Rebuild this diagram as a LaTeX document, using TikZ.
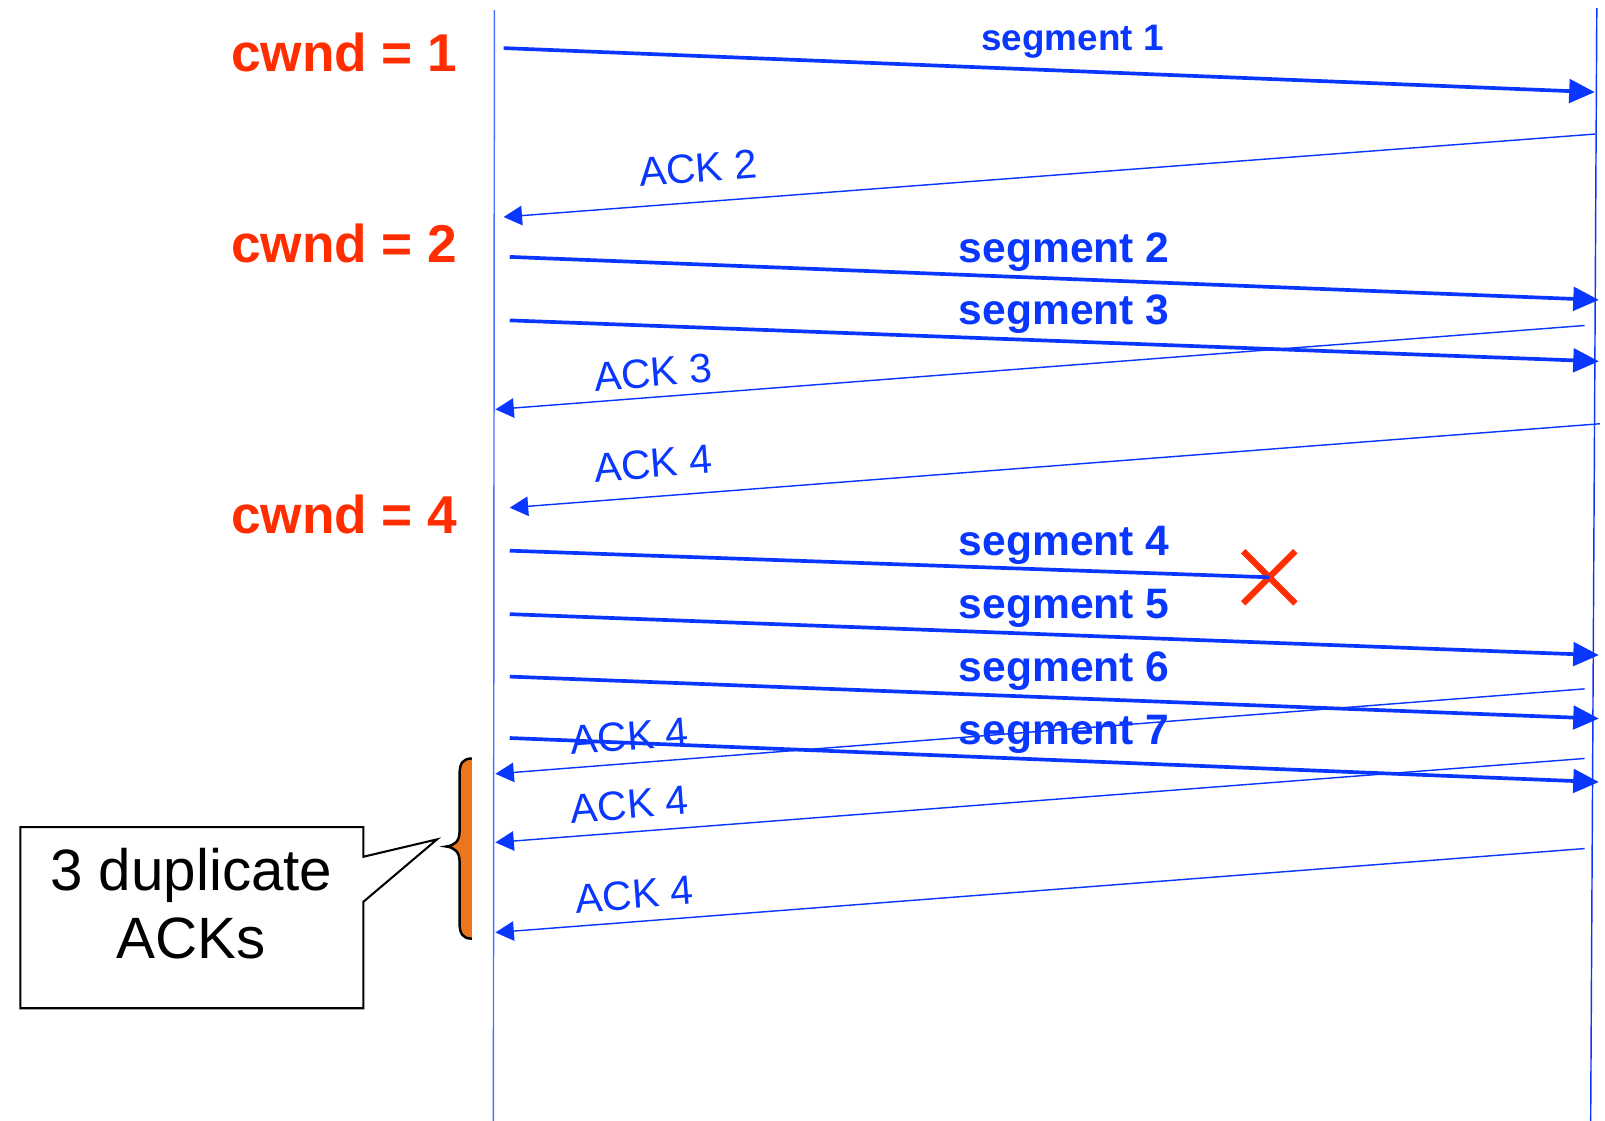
\documentclass[tikz,border=0pt]{standalone}
\usepackage{fontspec}
\setmainfont{Liberation Sans}
\usetikzlibrary{arrows.meta,shapes.misc}
\definecolor{tcpblue}{RGB}{10,55,255}
\definecolor{lineblue}{RGB}{75,110,255}
\definecolor{cwndred}{RGB}{255,45,0}
\definecolor{braceorange}{RGB}{236,118,30}
\tikzset{every picture/.style={line width=0.75pt}}
\tikzset{
  lifeline/.style={draw=#1, line width=0.7pt},
  seg/.style={draw=tcpblue, line width=1.8pt, -{Triangle[length=12.5pt,width=11.5pt]}},
  ack/.style={draw=tcpblue, line width=0.7pt, -{Triangle[length=9pt,width=9.5pt]}},
  seglabel/.style={text=tcpblue, font=\fontsize{20.8}{24}\selectfont\bfseries, anchor=base west, inner sep=0pt},
  acklabel/.style={text=tcpblue, font=\fontsize{20}{24}\selectfont, rotate=4.4, inner sep=0pt},
  cwndlabel/.style={text=cwndred, font=\fontsize{26}{30}\selectfont\bfseries, anchor=base west, inner sep=0pt},
}

\begin{document}
\begin{tikzpicture}[x=0.5pt,y=0.5pt,yscale=-1,xscale=1]
\useasboundingbox (0,0) rectangle (1568,1095);

%Time lines
\coordinate (Ltop) at (483,10);
\coordinate (Lbot) at (482,1095);
\coordinate (Rtop) at (1560,8);
\coordinate (Rbot) at (1554,1095);
\draw[lifeline=lineblue] (Ltop) -- (Lbot);
\draw[lifeline=tcpblue] (Rtop) -- (Rbot);

%End points
\coordinate (s1a) at (492,47);   \coordinate (s1b) at (1558,90);
\coordinate (a2a) at (1558,131); \coordinate (a2b) at (492,212);
\coordinate (s2a) at (498,251);  \coordinate (s2b) at (1562,293);
\coordinate (s3a) at (498,313);  \coordinate (s3b) at (1562,353);
\coordinate (a3a) at (1548,318); \coordinate (a3b) at (484,400);
\coordinate (a4a) at (1563,414); \coordinate (a4b) at (498,496);
\coordinate (s4a) at (498,538);
\coordinate (s5a) at (498,600);  \coordinate (s5b) at (1562,640);
\coordinate (s6a) at (498,661);  \coordinate (s6b) at (1562,702);
\coordinate (s7a) at (498,721);  \coordinate (s7b) at (1562,764);
\coordinate (d1a) at (1548,673); \coordinate (d1b) at (484,756);
\coordinate (d2a) at (1548,741); \coordinate (d2b) at (484,823);
\coordinate (d3a) at (1548,829); \coordinate (d3b) at (484,911);

%Lost segment
\node[cross out, draw=cwndred, line width=3pt, minimum size=22.5pt, inner sep=0pt] (lost) at (1240,564) {};

%Straight Lines
\draw[seg] (s1a) -- (s1b);
\draw[ack] (a2a) -- (a2b);
\draw[seg] (s2a) -- (s2b);
\draw[seg] (s3a) -- (s3b);
\draw[ack] (a3a) -- (a3b);
\draw[ack] (a4a) -- (a4b);
\draw[draw=tcpblue, line width=1.8pt] (s4a) -- (lost.center);
\draw[seg] (s5a) -- (s5b);
\draw[seg] (s6a) -- (s6b);
\draw[seg] (s7a) -- (s7b);
\draw[ack] (d1a) -- (d1b);
\draw[ack] (d2a) -- (d2b);
\draw[ack] (d3a) -- (d3b);

% Text Node
\node[cwndlabel] (cw1) at (225,70) {cwnd = 1};
\node[cwndlabel] (cw2) at (225,256) {cwnd = 2};
\node[cwndlabel] (cw4) at (225,521) {cwnd = 4};
% Text Node
\node[seglabel, font=\fontsize{18}{22}\selectfont\bfseries] (lb1) at (958,49) {segment 1};
\node[seglabel] (lb2) at (936,256) {segment 2};
\node[seglabel] (lb3) at (936,317) {segment 3};
\node[seglabel] (lb4) at (936,543) {segment 4};
\node[seglabel] (lb5) at (936,604) {segment 5};
\node[seglabel] (lb6) at (936,666) {segment 6};
\node[seglabel] (lb7) at (936,727) {segment 7};
% Text Node
\node[acklabel] (ak2) at (682,164) {ACK 2};
\node[acklabel] (ak3) at (638,364) {ACK 3};
\node[acklabel] (ak4) at (638,453) {ACK 4};
\node[acklabel] (dk1) at (615,719) {ACK 4};
\node[acklabel] (dk2) at (615,786) {ACK 4};
\node[acklabel] (dk3) at (620,874) {ACK 4};

%Shape: Brace
\fill[braceorange] (461,741) .. controls (452,741) and (449,746) .. (449,756) -- (449,812) .. controls (449,822) and (444,826) .. (436,827) .. controls (444,828) and (449,832) .. (449,842) -- (449,902) .. controls (449,912) and (452,917) .. (461,917) -- cycle;
\draw[line width=1.2pt] (461,741) .. controls (452,741) and (449,746) .. (449,756) -- (449,812) .. controls (449,822) and (444,826) .. (436,827) .. controls (444,828) and (449,832) .. (449,842) -- (449,902) .. controls (449,912) and (452,917) .. (461,917);

%Shape: Callout
\draw[line width=1pt, fill=white] (20,808) -- (355,808) -- (355,837) -- (427,820) -- (355,881) -- (355,985) -- (20,985) -- cycle;
\node[align=center, inner sep=0pt, font=\fontsize{28.5}{33.5}\selectfont] (dup) at (187,883) {3 duplicate\\ACKs};

\end{tikzpicture}
\end{document}
